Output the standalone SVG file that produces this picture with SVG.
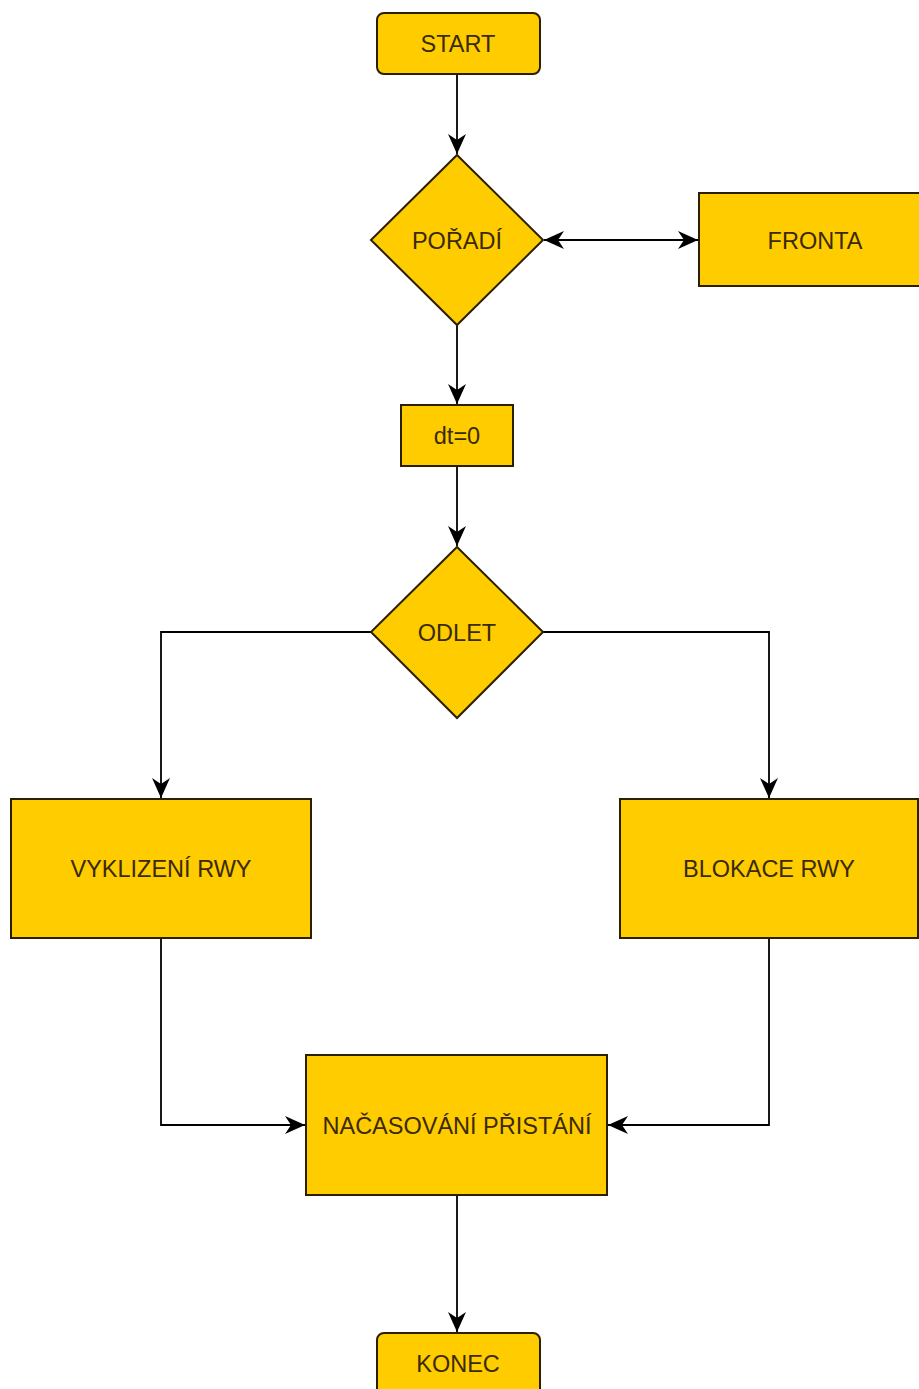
<svg xmlns="http://www.w3.org/2000/svg" width="919" height="1389" viewBox="0 0 919 1389">
  <style>
    .shape { fill: #FFCC00; stroke: #2a2000; stroke-width: 2; }
    .label { font-family: "Liberation Sans", Arial, sans-serif; font-size: 23.5px; fill: #3a2a05; text-anchor: middle; dominant-baseline: central; }
    .edge { fill: none; stroke: #000; stroke-width: 1.8; }
  </style>
  <defs>
    <marker id="arrow" viewBox="-1 -11 23 22" markerUnits="userSpaceOnUse" markerWidth="23" markerHeight="22" refX="20" refY="0" orient="auto-start-reverse">
      <path d="M0,-9 L20,0 L0,9 L6,0 Z" fill="#000"/>
    </marker>
  </defs>
  <rect width="919" height="1389" fill="#ffffff"/>

  <g id="connectors">
    <path class="edge" d="M457,74 L457,154" marker-end="url(#arrow)"/>
    <path class="edge" d="M544,240 L698,240" marker-start="url(#arrow)" marker-end="url(#arrow)"/>
    <path class="edge" d="M457,325 L457,404" marker-end="url(#arrow)"/>
    <path class="edge" d="M457,466 L457,546" marker-end="url(#arrow)"/>
    <path class="edge" d="M371,632 L161,632 L161,798" marker-end="url(#arrow)"/>
    <path class="edge" d="M543,632 L769,632 L769,798" marker-end="url(#arrow)"/>
    <path class="edge" d="M161,938 L161,1125 L305,1125" marker-end="url(#arrow)"/>
    <path class="edge" d="M769,938 L769,1125 L608,1125" marker-end="url(#arrow)"/>
    <path class="edge" d="M457,1195 L457,1332" marker-end="url(#arrow)"/>
  </g>

  <g id="start">
    <rect class="shape" x="377" y="13" width="163" height="61" rx="7"/>
    <text class="label" x="458" y="44">START</text>
  </g>
  <g id="poradi">
    <polygon class="shape" points="457,155 543,240 457,325 371,240"/>
    <text class="label" x="457" y="241">POŘADÍ</text>
  </g>
  <g id="fronta">
    <rect class="shape" x="699" y="193" width="232" height="93"/>
    <text class="label" x="815" y="241">FRONTA</text>
  </g>
  <g id="dt">
    <rect class="shape" x="401" y="405" width="112" height="61"/>
    <text class="label" x="457" y="436">dt=0</text>
  </g>
  <g id="odlet">
    <polygon class="shape" points="457,547 543,632 457,718 371,632"/>
    <text class="label" x="457" y="633">ODLET</text>
  </g>
  <g id="vyklizeni">
    <rect class="shape" x="11" y="799" width="300" height="139"/>
    <text class="label" x="161" y="869">VYKLIZENÍ RWY</text>
  </g>
  <g id="blokace">
    <rect class="shape" x="620" y="799" width="298" height="139"/>
    <text class="label" x="769" y="869">BLOKACE RWY</text>
  </g>
  <g id="nacasovani">
    <rect class="shape" x="306" y="1055" width="301" height="140"/>
    <text class="label" x="457" y="1126">NAČASOVÁNÍ PŘISTÁNÍ</text>
  </g>
  <g id="konec">
    <rect class="shape" x="377" y="1333" width="163" height="70" rx="7"/>
    <text class="label" x="458" y="1364">KONEC</text>
  </g>
</svg>
